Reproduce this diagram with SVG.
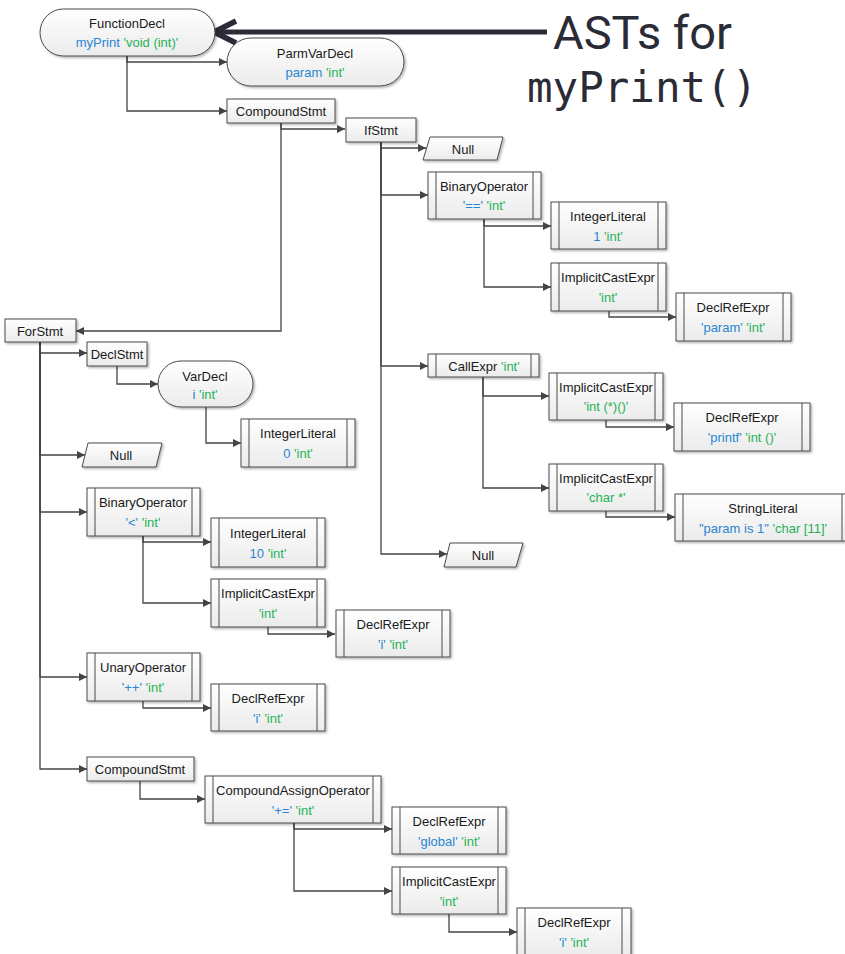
<svg xmlns="http://www.w3.org/2000/svg" width="845" height="954" viewBox="0 0 845 954">
<style>
.bx{fill:url(#gr);stroke:#4a4a4a;stroke-width:1;filter:url(#sh)}
.il{stroke:#4a4a4a;stroke-width:1}
.c{fill:none;stroke:#444;stroke-width:1.3;marker-end:url(#ah)}
text{font-family:"Liberation Sans",Arial,sans-serif;font-size:13px;fill:#1a1a1a;text-anchor:middle}
.b{fill:#2a85d2}
.g{fill:#1fb257}
</style>
<defs>
<linearGradient id="gr" x1="0" y1="0" x2="0" y2="1"><stop offset="0" stop-color="#ffffff"/><stop offset="1" stop-color="#ebebeb"/></linearGradient>
<filter id="sh" x="-10%" y="-10%" width="130%" height="140%"><feDropShadow dx="1.5" dy="1.5" stdDeviation="0.8" flood-color="#000" flood-opacity="0.3"/></filter>
<marker id="ah" markerUnits="userSpaceOnUse" markerWidth="9" markerHeight="8" refX="8" refY="4" orient="auto"><path d="M0,0 L8,4 L0,8 z" fill="#444"/></marker>
</defs>
<rect width="845" height="954" fill="#fff"/>

<g id="title">
<path d="M547,32 H216" fill="none" stroke="#2b2b36" stroke-width="5"/>
<path d="M236,21 L214,32 L236,43" fill="none" stroke="#2b2b36" stroke-width="5.5" stroke-linejoin="miter"/>
<text x="553" y="49" style="font-family:Roboto,'Liberation Sans',sans-serif;font-size:47px;text-anchor:start;fill:#2b2b36">ASTs for</text>
<text x="527" y="102" style="font-family:'DejaVu Sans Mono','Liberation Mono',monospace;font-size:42.5px;text-anchor:start;fill:#2b2b36">myPrint()</text>
</g>

<g id="connectors">
<path class="c" d="M127,56 V62 H227"/>
<path class="c" d="M127,56 V111 H227"/>
<path class="c" d="M281,123 V129 H345"/>
<path class="c" d="M281,123 V331 H76"/>
<path class="c" d="M381,142 V148 H426"/>
<path class="c" d="M381,142 V195 H428"/>
<path class="c" d="M381,142 V366 H428"/>
<path class="c" d="M381,142 V554 H447"/>
<path class="c" d="M484,219 V226 H551"/>
<path class="c" d="M484,219 V287 H551"/>
<path class="c" d="M609,311 V317 H676"/>
<path class="c" d="M483,377 V396 H549"/>
<path class="c" d="M483,377 V488 H549"/>
<path class="c" d="M606,420 V427 H674"/>
<path class="c" d="M606,511 V517 H675"/>
<path class="c" d="M40,342 V353 H87"/>
<path class="c" d="M40,342 V455 H85"/>
<path class="c" d="M40,342 V512 H87"/>
<path class="c" d="M40,342 V677 H87"/>
<path class="c" d="M40,342 V769 H87"/>
<path class="c" d="M117,366 V384 H158"/>
<path class="c" d="M206,407 V443 H241"/>
<path class="c" d="M143,536 V542 H211"/>
<path class="c" d="M143,536 V603 H211"/>
<path class="c" d="M268,627 V634 H335"/>
<path class="c" d="M143,701 V708 H211"/>
<path class="c" d="M140,781 V799 H205"/>
<path class="c" d="M294,823 V829 H392"/>
<path class="c" d="M294,823 V891 H392"/>
<path class="c" d="M449,914 V932 H517"/>
</g>

<g id="FunctionDecl">
<rect class="bx" x="40" y="9" width="175" height="47" rx="23.5"/>
<text x="127" y="28">FunctionDecl</text>
<text x="127" y="47"><tspan class="b">myPrint</tspan> <tspan class="g">'void (int)'</tspan></text>
</g>
<g id="ParmVarDecl">
<rect class="bx" x="227" y="38" width="177" height="48" rx="24"/>
<text x="315" y="58">ParmVarDecl</text>
<text x="315" y="77"><tspan class="b">param</tspan> <tspan class="g">'int'</tspan></text>
</g>
<g id="CompoundStmt1">
<rect class="bx" x="227" y="99" width="108" height="24"/>
<text x="281" y="116">CompoundStmt</text>
</g>
<g id="IfStmt">
<rect class="bx" x="346" y="118" width="70" height="24"/>
<text x="381" y="135">IfStmt</text>
</g>
<g id="Null1">
<polygon class="bx" points="430,137 503,137 497,160 423,160"/>
<text x="463" y="154">Null</text>
</g>
<g id="BinaryOperatorEq">
<rect class="bx" x="428" y="172" width="113" height="47"/>
<path class="il" d="M436,172 V219 M533,172 V219"/>
<text x="484" y="191">BinaryOperator</text>
<text x="484" y="210"><tspan class="b">'=='</tspan> <tspan class="g">'int'</tspan></text>
</g>
<g id="IntegerLiteral1">
<rect class="bx" x="551" y="202" width="115" height="47"/>
<path class="il" d="M559,202 V249 M658,202 V249"/>
<text x="608" y="221">IntegerLiteral</text>
<text x="608" y="241"><tspan class="b">1</tspan> <tspan class="g">'int'</tspan></text>
</g>
<g id="ImplicitCastExpr1">
<rect class="bx" x="551" y="263" width="115" height="48"/>
<path class="il" d="M559,263 V311 M658,263 V311"/>
<text x="608" y="282">ImplicitCastExpr</text>
<text x="608" y="302" class="g">'int'</text>
</g>
<g id="DeclRefExprParam">
<rect class="bx" x="676" y="293" width="115" height="48"/>
<path class="il" d="M684,293 V341 M783,293 V341"/>
<text x="733" y="312">DeclRefExpr</text>
<text x="733" y="332"><tspan class="b">'param'</tspan> <tspan class="g">'int'</tspan></text>
</g>
<g id="CallExpr">
<rect class="bx" x="428" y="354" width="111" height="23"/>
<path class="il" d="M436,354 V377 M531,354 V377"/>
<text x="484" y="371">CallExpr <tspan class="g">'int'</tspan></text>
</g>
<g id="ImplicitCastExpr2">
<rect class="bx" x="549" y="373" width="114" height="47"/>
<path class="il" d="M557,373 V420 M655,373 V420"/>
<text x="606" y="392">ImplicitCastExpr</text>
<text x="606" y="411" class="g">'int (*)()'</text>
</g>
<g id="DeclRefExprPrintf">
<rect class="bx" x="674" y="403" width="136" height="48"/>
<path class="il" d="M682,403 V451 M802,403 V451"/>
<text x="742" y="422">DeclRefExpr</text>
<text x="742" y="442"><tspan class="b">'printf'</tspan> <tspan class="g">'int ()'</tspan></text>
</g>
<g id="ImplicitCastExpr3">
<rect class="bx" x="549" y="464" width="114" height="47"/>
<path class="il" d="M557,464 V511 M655,464 V511"/>
<text x="606" y="483">ImplicitCastExpr</text>
<text x="606" y="502" class="g">'char *'</text>
</g>
<g id="StringLiteral">
<rect class="bx" x="675" y="494" width="176" height="47"/>
<path class="il" d="M683,494 V541 M842,494 V541"/>
<text x="763" y="513">StringLiteral</text>
<text x="763" y="533"><tspan class="b">"param is 1"</tspan> <tspan class="g">'char [11]'</tspan></text>
</g>
<g id="Null2">
<polygon class="bx" points="450,543 523,543 516,567 444,567"/>
<text x="483" y="560">Null</text>
</g>

<g id="ForStmt">
<rect class="bx" x="5" y="319" width="71" height="23"/>
<text x="40" y="336">ForStmt</text>
</g>
<g id="DeclStmt">
<rect class="bx" x="87" y="342" width="60" height="24"/>
<text x="117" y="359">DeclStmt</text>
</g>
<g id="VarDecl">
<rect class="bx" x="158" y="361" width="95" height="46" rx="23"/>
<text x="205" y="381">VarDecl</text>
<text x="205" y="399"><tspan class="b">i</tspan> <tspan class="g">'int'</tspan></text>
</g>
<g id="IntegerLiteral0">
<rect class="bx" x="241" y="419" width="114" height="48"/>
<path class="il" d="M249,419 V467 M347,419 V467"/>
<text x="298" y="438">IntegerLiteral</text>
<text x="298" y="458"><tspan class="b">0</tspan> <tspan class="g">'int'</tspan></text>
</g>
<g id="Null3">
<polygon class="bx" points="88,443 162,443 156,467 82,467"/>
<text x="121" y="460">Null</text>
</g>
<g id="BinaryOperatorLt">
<rect class="bx" x="87" y="488" width="113" height="48"/>
<path class="il" d="M95,488 V536 M192,488 V536"/>
<text x="143" y="507">BinaryOperator</text>
<text x="143" y="527"><tspan class="b">'&lt;'</tspan> <tspan class="g">'int'</tspan></text>
</g>
<g id="IntegerLiteral10">
<rect class="bx" x="211" y="518" width="114" height="49"/>
<path class="il" d="M219,518 V567 M317,518 V567"/>
<text x="268" y="538">IntegerLiteral</text>
<text x="268" y="558"><tspan class="b">10</tspan> <tspan class="g">'int'</tspan></text>
</g>
<g id="ImplicitCastExpr4">
<rect class="bx" x="211" y="579" width="114" height="48"/>
<path class="il" d="M219,579 V627 M317,579 V627"/>
<text x="268" y="598">ImplicitCastExpr</text>
<text x="268" y="618" class="g">'int'</text>
</g>
<g id="DeclRefExprI1">
<rect class="bx" x="336" y="610" width="114" height="47"/>
<path class="il" d="M344,610 V657 M442,610 V657"/>
<text x="393" y="629">DeclRefExpr</text>
<text x="393" y="649"><tspan class="b">'i'</tspan> <tspan class="g">'int'</tspan></text>
</g>
<g id="UnaryOperator">
<rect class="bx" x="87" y="653" width="113" height="48"/>
<path class="il" d="M95,653 V701 M192,653 V701"/>
<text x="143" y="672">UnaryOperator</text>
<text x="143" y="692"><tspan class="b">'++'</tspan> <tspan class="g">'int'</tspan></text>
</g>
<g id="DeclRefExprI2">
<rect class="bx" x="211" y="684" width="114" height="47"/>
<path class="il" d="M219,684 V731 M317,684 V731"/>
<text x="268" y="703">DeclRefExpr</text>
<text x="268" y="723"><tspan class="b">'i'</tspan> <tspan class="g">'int'</tspan></text>
</g>
<g id="CompoundStmt2">
<rect class="bx" x="87" y="757" width="107" height="24"/>
<text x="140" y="774">CompoundStmt</text>
</g>
<g id="CompoundAssignOperator">
<rect class="bx" x="205" y="776" width="176" height="47"/>
<path class="il" d="M213,776 V823 M373,776 V823"/>
<text x="293" y="795">CompoundAssignOperator</text>
<text x="293" y="815"><tspan class="b">'+='</tspan> <tspan class="g">'int'</tspan></text>
</g>
<g id="DeclRefExprGlobal">
<rect class="bx" x="392" y="807" width="114" height="47"/>
<path class="il" d="M400,807 V854 M498,807 V854"/>
<text x="449" y="826">DeclRefExpr</text>
<text x="449" y="846"><tspan class="b">'global'</tspan> <tspan class="g">'int'</tspan></text>
</g>
<g id="ImplicitCastExpr5">
<rect class="bx" x="392" y="867" width="114" height="47"/>
<path class="il" d="M400,867 V914 M498,867 V914"/>
<text x="449" y="886">ImplicitCastExpr</text>
<text x="449" y="906" class="g">'int'</text>
</g>
<g id="DeclRefExprI3">
<rect class="bx" x="517" y="908" width="114" height="48"/>
<path class="il" d="M525,908 V956 M622,908 V956"/>
<text x="574" y="927">DeclRefExpr</text>
<text x="574" y="947"><tspan class="b">'i'</tspan> <tspan class="g">'int'</tspan></text>
</g>
</svg>
